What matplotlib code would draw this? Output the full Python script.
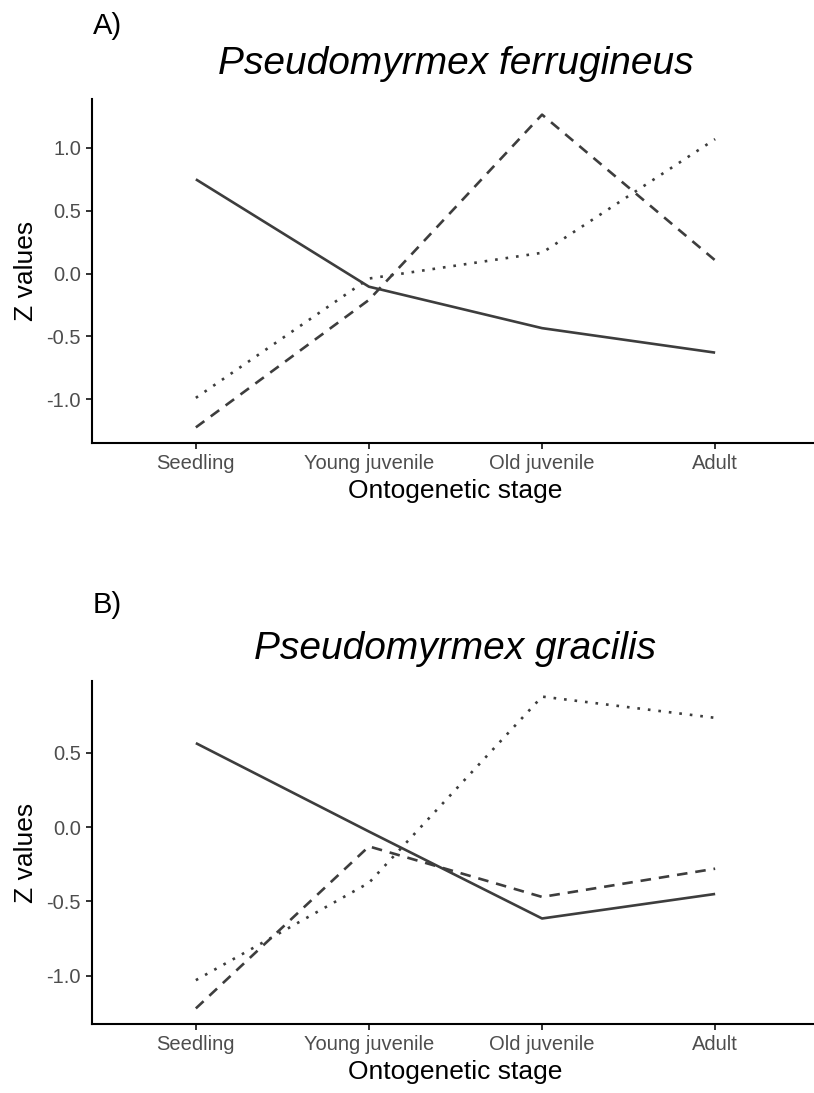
import matplotlib
matplotlib.use("Agg")
import matplotlib.pyplot as plt
import numpy as np

plt.rcParams['font.family'] = ['Liberation Sans', 'DejaVu Sans']

stages = ["Seedling", "Young juvenile", "Old juvenile", "Adult"]

# Panel A: Pseudomyrmex ferrugineus
a_solid = [0.75, -0.105, -0.435, -0.63]
a_dashed = [-1.225, -0.21, 1.265, 0.105]
a_dotted = [-0.99, -0.04, 0.165, 1.07]

# Panel B: Pseudomyrmex gracilis
b_solid = [0.565, -0.03, -0.615, -0.45]
b_dashed = [-1.22, -0.13, -0.47, -0.28]
b_dotted = [-1.03, -0.375, 0.878, 0.735]

yticks_a = [-1.0, -0.5, 0.0, 0.5, 1.0]
yticks_b = [-1.0, -0.5, 0.0, 0.5]

W, H = 814, 1093
fig = plt.figure(figsize=(W / 100, H / 100), dpi=100)

line_col = '#3d3d3d'
lw = 1.9


def px_axes(left, top, right, bottom):
    return fig.add_axes([left / W, 1 - bottom / H, (right - left) / W, (bottom - top) / H])


def panel(ax, solid, dashed, dotted, yticks):
    x = np.arange(len(stages))
    ax.plot(x, solid, color=line_col, lw=lw, ls='-', solid_capstyle='butt')
    ax.plot(x, dashed, color=line_col, lw=lw, dashes=(4, 3))
    ax.plot(x, dotted, color=line_col, lw=lw, dashes=(1, 3))
    allv = np.array(solid + dashed + dotted)
    lo, hi = allv.min(), allv.max()
    r = hi - lo
    ax.set_ylim(lo - 0.05 * r, hi + 0.05 * r)
    ax.set_xlim(-0.6, len(stages) - 0.4)
    ax.set_xticks(x)
    ax.set_xticklabels(stages)
    ax.set_yticks(yticks)
    ax.set_yticklabels([f"{v:.1f}" for v in yticks])
    for s in ['top', 'right']:
        ax.spines[s].set_visible(False)
    for s in ['left', 'bottom']:
        ax.spines[s].set_linewidth(1.5)
        ax.spines[s].set_color('black')
    ax.tick_params(axis='both', length=4, width=1.4, color='#333333',
                   labelcolor='#4d4d4d', labelsize=14.5, pad=4)
    ax.set_ylabel("Z values", fontsize=19, color='black', labelpad=6)
    ax.set_xlabel("Ontogenetic stage", fontsize=19, color='black', labelpad=4)


axA = px_axes(92, 99, 819, 443)
panel(axA, a_solid, a_dashed, a_dotted, yticks_a)
axB = px_axes(92, 681, 819, 1024)
panel(axB, b_solid, b_dashed, b_dotted, yticks_b)

fig.text(93 / W, 1 - 26 / H, "A)", fontsize=21, ha='left', va='center')
fig.text(93 / W, 1 - 605 / H, "B)", fontsize=21, ha='left', va='center')
fig.text(455.5 / W, 1 - 74 / H, "Pseudomyrmex ferrugineus", fontsize=28,
         style='italic', ha='center', va='baseline')
fig.text(455.5 / W, 1 - 659 / H, "Pseudomyrmex gracilis", fontsize=28,
         style='italic', ha='center', va='baseline')

fig.savefig("out.png", dpi=100, facecolor='white')
